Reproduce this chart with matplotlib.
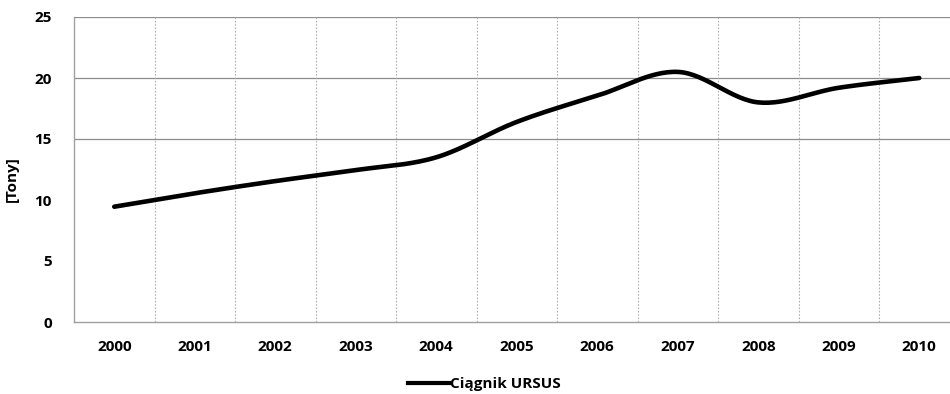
import numpy as np
import matplotlib
matplotlib.use("Agg")
import matplotlib.pyplot as plt
from matplotlib.lines import Line2D

years = ["2000", "2001", "2002", "2003", "2004", "2005",
         "2006", "2007", "2008", "2009", "2010"]
tony = [9.45, 10.55, 11.55, 12.45, 13.5, 16.4, 18.55, 20.5, 18.0, 19.2, 20.0]
y_ticks = [0, 5, 10, 15, 20, 25]
h_grid = [15, 20, 25]
series_name = "Ciągnik URSUS"

plt.rcParams['font.family'] = ['Open Sans', 'DejaVu Sans']
plt.rcParams['font.weight'] = 'bold'


# smoothed line like the spreadsheet "smoothed line" option (Catmull-Rom)
def smooth(xs, ys, steps=30):
    x = np.asarray(xs, float)
    y = np.asarray(ys, float)
    px = np.concatenate([[2 * x[0] - x[1]], x, [2 * x[-1] - x[-2]]])
    py = np.concatenate([[2 * y[0] - y[1]], y, [2 * y[-1] - y[-2]]])
    out_x, out_y = [], []
    t = np.linspace(0, 1, steps, endpoint=False)
    for i in range(1, len(px) - 2):
        for arr, out in ((px, out_x), (py, out_y)):
            p0, p1, p2, p3 = arr[i - 1], arr[i], arr[i + 1], arr[i + 2]
            out.extend(0.5 * ((2 * p1) + (-p0 + p2) * t
                              + (2 * p0 - 5 * p1 + 4 * p2 - p3) * t ** 2
                              + (-p0 + 3 * p1 - 3 * p2 + p3) * t ** 3))
    out_x.append(x[-1])
    out_y.append(y[-1])
    return np.array(out_x), np.array(out_y)


fig = plt.figure(figsize=(9.5, 3.94), dpi=100)
ax = fig.add_axes([74 / 950, 1 - 322 / 394, 876 / 950, 305 / 394])

xpos = np.arange(len(years))
sx, sy = smooth(xpos, tony)
ax.plot(sx, sy, color='black', lw=3.3, solid_capstyle='round', zorder=3)

for v in h_grid:
    ax.axhline(v, color='#8c8c8c', lw=0.9, zorder=1)
for b in xpos[:-1] + 0.5:
    ax.axvline(b, color='#b0b0b0', lw=0.8, ls=(0, (1.5, 1.5)), zorder=1)

ax.set_xlim(-0.5, -0.5 + 876 / 80.5)
ax.set_ylim(0, 25)
ax.set_xticks(xpos)
ax.set_xticklabels(years)
ax.set_yticks(y_ticks)
ax.tick_params(length=0, labelsize=11)
ax.tick_params(axis='y', pad=16)
ax.tick_params(axis='x', pad=13)

for s in ['top', 'right']:
    ax.spines[s].set_visible(False)
for s in ['left', 'bottom']:
    ax.spines[s].set_color('#a0a0a0')
    ax.spines[s].set_linewidth(1.0)

ax.set_ylabel('[Tony]', fontsize=11, fontweight='bold')
ax.yaxis.set_label_coords((19 - 74) / 876, 0.47)

handle = Line2D([], [], color='black', lw=3)
fig.legend([handle], [series_name], loc='center', bbox_to_anchor=(484 / 950, 1 - 384 / 394),
           frameon=False, fontsize=11, handlelength=2.7, handletextpad=0.05)

fig.savefig('out.png', dpi=100)
